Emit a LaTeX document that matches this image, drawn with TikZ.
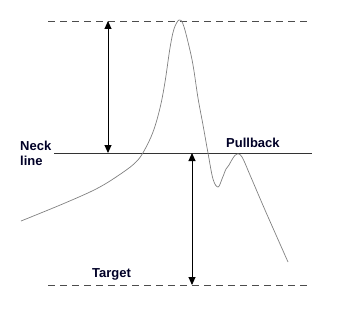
\documentclass[tikz,border=0pt]{standalone}
\usepackage{fontspec}
\setmainfont{Liberation Sans}
\usetikzlibrary{arrows.meta}

\begin{document}
\begin{tikzpicture}[x=1pt,y=-1pt,
    level/.style={dashed, dash pattern=on 7pt off 5pt, line width=0.9pt, black!70},
    span/.style={{Triangle[width=7pt,length=8pt]}-{Triangle[width=7pt,length=8pt]}, line width=0.9pt},
    tag/.style={inner sep=0pt, font=\fontsize{13}{15}\selectfont\bfseries, text=black!85!blue}]

    \useasboundingbox (0,0) rectangle (361,313);

    % Levels
    \draw[level] (48,21) -- (310,21);
    \draw[line width=0.9pt, black!80] (54,153) -- (312,153);
    \draw[level] (48,285) -- (310,285);

    % Ends of the two spans
    \coordinate (top) at (108,21);
    \coordinate (neckL) at (108,153);
    \coordinate (neckR) at (192,153);
    \coordinate (bottom) at (192,285);
    \draw[span] (top) -- (neckL);
    \draw[span] (neckR) -- (bottom);

    % Price path
    \draw[gray, line width=0.7pt] plot[smooth, tension=0.6] coordinates {
        (21,221) (65,203) (98,188) (122,173) (136,162) (144,151) (153,132)
        (160,108) (165,82) (170,48) (174,29) (179,20) (183,24) (188,42)
        (193,65) (198,98) (203,125) (208,153) (213,179) (218,187) (222,179)
        (226,169) (229,165) (233,158) (237,154) (242,157) (250,175)
        (265,210) (288,262)};

    % Labels
    \node[tag, anchor=base west] (neck) at (20,150) {Neck};
    \node[tag, anchor=base west] (line) at (20,165) {line};
    \node[tag, anchor=base west] (pullback) at (226,147) {Pullback};
    \node[tag, anchor=base west] (target) at (92,277) {Target};

\end{tikzpicture}
\end{document}
